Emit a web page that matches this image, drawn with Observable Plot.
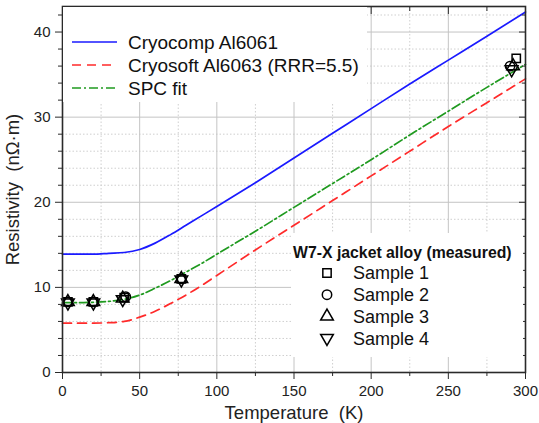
<!DOCTYPE html>
<html><head><meta charset="utf-8">
<script src="https://cdn.jsdelivr.net/npm/d3@7"></script>
<script src="https://cdn.jsdelivr.net/npm/@observablehq/plot@0.6"></script>
<style>
html,body{margin:0;padding:0;background:#fff;}
#chart{position:relative;width:539px;height:423px;}
#chart svg{font-family:"Liberation Sans",Arial,sans-serif;overflow:visible;}
</style></head><body><div id="chart"></div>
<script>
// ---- data ----
const temps     = [0, 10, 20, 30, 40, 50, 60, 70, 80, 90, 100, 125, 150, 175, 200, 225, 250, 275, 300];
const cryocomp  = [13.9, 13.9, 13.9, 14.0, 14.1, 14.45, 15.2, 16.2, 17.3, 18.4, 19.5, 22.3, 25.2, 28.1, 31.0, 33.9, 36.7, 39.5, 42.35];
const cryosoft  = [5.8, 5.8, 5.8, 5.85, 6.0, 6.5, 7.2, 8.1, 9.1, 10.2, 11.4, 14.4, 17.3, 20.2, 23.1, 26.0, 28.9, 31.7, 34.5];
const spcFit    = [8.2, 8.2, 8.25, 8.35, 8.6, 9.1, 9.9, 10.8, 11.8, 12.8, 13.9, 16.6, 19.4, 22.2, 25.0, 27.9, 30.7, 33.5, 36.2];

const sample1T = [3.5, 20, 40, 77, 294];
const sample1R = [8.3, 8.3, 8.8, 11.0, 36.9];
const sample2T = [3.5, 20, 41, 77, 290];
const sample2R = [8.3, 8.3, 8.9, 11.0, 36.0];
const sample3T = [3.5, 20, 39, 77, 292];
const sample3R = [8.3, 8.3, 8.7, 11.0, 36.0];
const sample4T = [3.5, 20, 39, 77, 291];
const sample4R = [8.2, 8.2, 8.6, 10.9, 35.6];

const xMajor = [0, 50, 100, 150, 200, 250, 300];
const xMinor = [25, 75, 125, 175, 225, 275];
const yMajor = [0, 10, 20, 30, 40];
const yMinor = [2, 4, 6, 8, 12, 14, 16, 18, 22, 24, 26, 28, 32, 34, 36, 38, 42];

const lineNames = ["Cryocomp Al6061", "Cryosoft Al6063 (RRR=5.5)", "SPC fit"];
const sampleNames = ["Sample 1", "Sample 2", "Sample 3", "Sample 4"];
const sampleTitle = "W7-X jacket alloy (measured)";

// ---- styles ----
const BLUE = "#1a1aff", RED = "#ff2a2a", GREEN = "#1f9a1f";
const lineStyles = [
  {stroke: BLUE, dash: null},
  {stroke: RED, dash: "9,6"},
  {stroke: GREEN, dash: "9,3,2,3"}
];
const triangleDown = {
  draw(ctx, size) {
    const y = -Math.sqrt(size / (Math.sqrt(3) * 3));
    ctx.moveTo(0, -y * 2);
    ctx.lineTo(-Math.sqrt(3) * y, y);
    ctx.lineTo(Math.sqrt(3) * y, y);
    ctx.closePath();
  }
};
const symbols = ["square", "circle", "triangle", triangleDown];
const d3symbols = [d3.symbolSquare, d3.symbolCircle, d3.symbolTriangle, triangleDown];
const R = 4.7;

const curves = [cryocomp, cryosoft, spcFit].map(vals => temps.map((t, i) => ({t, r: vals[i]})));
const samples = [[sample1T, sample1R], [sample2T, sample2R], [sample3T, sample3R], [sample4T, sample4R]]
  .map(([T, Rv]) => T.map((t, i) => ({t, r: Rv[i]})));

const AX = "#2a2a2a";
const plot = Plot.plot({
  width: 539, height: 423,
  marginLeft: 62, marginRight: 14, marginTop: 6, marginBottom: 51,
  style: {fontFamily: "'Liberation Sans', Arial, sans-serif", background: "#fff"},
  x: {domain: [0, 300]},
  y: {domain: [0, 43]},
  marks: [
    Plot.gridX(xMinor, {stroke: "#cfcfcf", strokeOpacity: 1, strokeDasharray: "1.5,2"}),
    Plot.gridY(yMinor, {stroke: "#cfcfcf", strokeOpacity: 1, strokeDasharray: "1.5,2"}),
    Plot.gridX(xMajor, {stroke: "#c4c4c4", strokeOpacity: 1}),
    Plot.gridY(yMajor, {stroke: "#c4c4c4", strokeOpacity: 1}),
    ...curves.map((c, k) => Plot.line(c, {x: "t", y: "r", stroke: lineStyles[k].stroke, strokeWidth: 1.7,
      strokeDasharray: lineStyles[k].dash, curve: "monotone-x"})),
    ...samples.map((s, k) => Plot.dot(s, {x: "t", y: "r", symbol: symbols[k], r: R, stroke: "#000",
      strokeWidth: 1.5, fill: "none"})),
    // bottom axis
    Plot.axisX({anchor: "bottom", ticks: xMajor, tickSize: 7, tickPadding: 6, fontSize: 15, color: "#222",
      stroke: AX, label: null}),
    Plot.axisX({anchor: "bottom", ticks: xMinor, tickSize: 4, text: null, stroke: AX, label: null}),
    Plot.axisX({anchor: "bottom", ticks: [], tickSize: 0, label: "Temperature \u00a0(K)", labelAnchor: "center",
      labelArrow: "none", labelOffset: 46, fontSize: 18.5, color: "#222"}),
    // top axis (inward)
    Plot.axisX({anchor: "top", ticks: xMajor, tickSize: -7, text: null, stroke: AX, label: null}),
    Plot.axisX({anchor: "top", ticks: xMinor, tickSize: -4, text: null, stroke: AX, label: null}),
    // left axis
    Plot.axisY({anchor: "left", ticks: yMajor, tickSize: 7, tickPadding: 5, fontSize: 15, color: "#222",
      stroke: AX, label: null}),
    Plot.axisY({anchor: "left", ticks: yMinor, tickSize: 4, text: null, stroke: AX, label: null}),
    Plot.axisY({anchor: "left", ticks: [], tickSize: 0, label: "Resistivity \u00a0(n\u03a9\u00b7m)", labelAnchor: "center",
      labelArrow: "none", labelOffset: 57, fontSize: 18.5, color: "#222"}),
    // right axis (inward)
    Plot.axisY({anchor: "right", ticks: yMajor, tickSize: -7, text: null, stroke: AX, label: null}),
    Plot.axisY({anchor: "right", ticks: yMinor, tickSize: -4, text: null, stroke: AX, label: null}),
    Plot.frame({stroke: AX, strokeWidth: 1.6})
  ]
});
document.getElementById("chart").appendChild(plot);

// ---- legends (drawn on top, pixel placed) ----
const svg = d3.select(plot);
const FONT = "'Liberation Sans', Arial, sans-serif";
const g1 = svg.append("g").attr("text-anchor", "start");
g1.append("rect").attr("x", 63).attr("y", 7).attr("width", 304).attr("height", 95).attr("fill", "#fff");
lineNames.forEach((name, k) => {
  const y = 42 + k * 23;
  g1.append("line").attr("x1", 72).attr("x2", 117).attr("y1", y).attr("y2", y)
    .attr("stroke", lineStyles[k].stroke).attr("stroke-width", 1.7)
    .attr("stroke-dasharray", lineStyles[k].dash);
  g1.append("text").attr("x", 128).attr("y", y).attr("dy", "0.36em").attr("font-size", 19)
    .attr("text-anchor", "start").attr("font-family", FONT).attr("fill", "#111").text(name);
});
const g2 = svg.append("g").attr("text-anchor", "start");
g2.append("rect").attr("x", 291).attr("y", 233).attr("width", 232).attr("height", 124).attr("fill", "#fff");
g2.append("text").attr("x", 293).attr("y", 252).attr("dy", "0.36em").attr("font-size", 15.8)
  .attr("text-anchor", "start").attr("font-weight", "bold").attr("font-family", FONT).attr("fill", "#111").text(sampleTitle);
sampleNames.forEach((name, k) => {
  const y = 273 + k * 21.7;
  g2.append("path").attr("transform", `translate(327,${y})`)
    .attr("d", d3.symbol(d3symbols[k], Math.PI * R * R)())
    .attr("fill", "none").attr("stroke", "#000").attr("stroke-width", 1.5);
  g2.append("text").attr("x", 353).attr("y", y).attr("dy", "0.36em").attr("font-size", 18)
    .attr("text-anchor", "start").attr("font-family", FONT).attr("fill", "#111").text(name);
});
</script></body></html>
